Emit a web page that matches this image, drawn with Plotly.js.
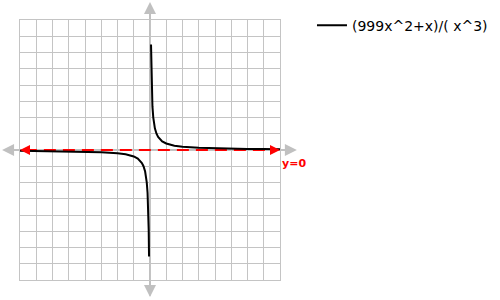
<!DOCTYPE html>
<html><head><meta charset="utf-8">
<script src="https://cdn.plot.ly/plotly-3.0.1.min.js"></script>
<style>body{margin:0;background:#fff}#chart{width:500px;height:300px}</style>
</head><body><div id="chart"></div>
<script>
// Curve points (999x^2+x)/(x^3)
const xNeg = [-8, -7, -6, -5, -4, -3, -2, -1.5, -1, -0.75, -0.5, -0.4, -0.3, -0.2, -0.15, -0.1, -0.08, -0.06];
const yNeg = [-125, -143, -166, -200, -250, -333, -499, -666, -998, -1330, -1994, -2491, -3319, -4970, -6616, -9890, -12331, -16372];
const xPos = [0.0625, 0.08, 0.1, 0.15, 0.2, 0.3, 0.4, 0.5, 0.75, 1, 1.5, 2, 3, 4, 5, 6, 7, 8];
const yPos = [16240, 12644, 10090, 6704, 5020, 3341, 2504, 2002, 1334, 1000, 666, 500, 333, 250, 200, 167, 143, 125];
const seriesName = '(999x^2+x)/( x^3)';
const asymptoteLabel = 'y=0';
const xRange = [-8, 8];
const yRange = [-20000, 20000];

const gridColor = '#c4c4c4';
const axisGray = '#c0c0c0';
const traces = [
  {x: xNeg, y: yNeg, mode: 'lines', name: seriesName, line: {color: '#000', width: 2}, showlegend: true, legendgroup: 'f'},
  {x: xPos, y: yPos, mode: 'lines', name: seriesName, line: {color: '#000', width: 2}, showlegend: false, legendgroup: 'f'}
];
const layout = {
  width: 500, height: 300,
  margin: {l: 20, r: 220, t: 20, b: 20, autoexpand: false},
  paper_bgcolor: '#fff', plot_bgcolor: '#fff',
  font: {family: 'DejaVu Sans', size: 12, color: '#000'},
  xaxis: {range: xRange, dtick: 1, showgrid: true, gridcolor: gridColor, gridwidth: 1, zeroline: false,
          showticklabels: false, ticks: '', showline: true, linecolor: gridColor, mirror: true, fixedrange: true},
  yaxis: {range: yRange, dtick: 2500, showgrid: true, gridcolor: gridColor, gridwidth: 1, zeroline: false,
          showticklabels: false, ticks: '', showline: true, linecolor: gridColor, mirror: true, fixedrange: true},
  showlegend: true,
  legend: {x: 1.123, y: 1.04, xanchor: 'left', yanchor: 'top', bgcolor: 'rgba(0,0,0,0)', font: {size: 14, family: 'DejaVu Sans'}},
  shapes: [
    {type: 'line', xref: 'paper', yref: 'paper', x0: -0.06, x1: 1.055, y0: 0.5, y1: 0.5,
     line: {color: axisGray, width: 2}, layer: 'between'},
    {type: 'line', xref: 'paper', yref: 'paper', x0: 0.5, x1: 0.5, y0: -0.06, y1: 1.06,
     line: {color: axisGray, width: 2}, layer: 'between'},
    {type: 'line', xref: 'x', yref: 'y', x0: xRange[0] + 0.3, x1: xRange[1] - 0.3, y0: 0, y1: 0,
     line: {color: '#ff0000', width: 2, dash: '12px,7px'}, layer: 'between'}
  ],
  annotations: [
    {xref: 'paper', yref: 'paper', axref: 'pixel', ayref: 'pixel', x: 1.065, y: 0.5, ax: -8, ay: 0, text: '', showarrow: true,
     arrowhead: 2, arrowsize: 1.2, arrowwidth: 2, arrowcolor: axisGray},
    {xref: 'paper', yref: 'paper', axref: 'pixel', ayref: 'pixel', x: -0.069, y: 0.5, ax: 8, ay: 0, text: '', showarrow: true,
     arrowhead: 2, arrowsize: 1.2, arrowwidth: 2, arrowcolor: axisGray},
    {xref: 'paper', yref: 'paper', axref: 'pixel', ayref: 'pixel', x: 0.5, y: 1.069, ax: 0, ay: 8, text: '', showarrow: true,
     arrowhead: 2, arrowsize: 1.2, arrowwidth: 2, arrowcolor: axisGray},
    {xref: 'paper', yref: 'paper', axref: 'pixel', ayref: 'pixel', x: 0.5, y: -0.065, ax: 0, ay: -8, text: '', showarrow: true,
     arrowhead: 2, arrowsize: 1.2, arrowwidth: 2, arrowcolor: axisGray},
    {xref: 'x', yref: 'y', axref: 'x', ayref: 'y', x: 8, y: 0, ax: 7.6, ay: 0, text: '', showarrow: true,
     arrowhead: 2, arrowsize: 1, arrowwidth: 2, arrowcolor: '#ff0000'},
    {xref: 'x', yref: 'y', axref: 'x', ayref: 'y', x: -8, y: 0, ax: -7.6, ay: 0, text: '', showarrow: true,
     arrowhead: 2, arrowsize: 1, arrowwidth: 2, arrowcolor: '#ff0000'},
    {xref: 'x', yref: 'y', x: 8, y: 0, text: '<b>' + asymptoteLabel + '</b>', showarrow: false,
     xanchor: 'left', yanchor: 'middle', xshift: 0, yshift: -13, font: {color: '#ff0000', size: 11, family: 'DejaVu Sans'}}
  ]
};
Plotly.newPlot('chart', traces, layout, {staticPlot: true, displayModeBar: false});
</script></body></html>
